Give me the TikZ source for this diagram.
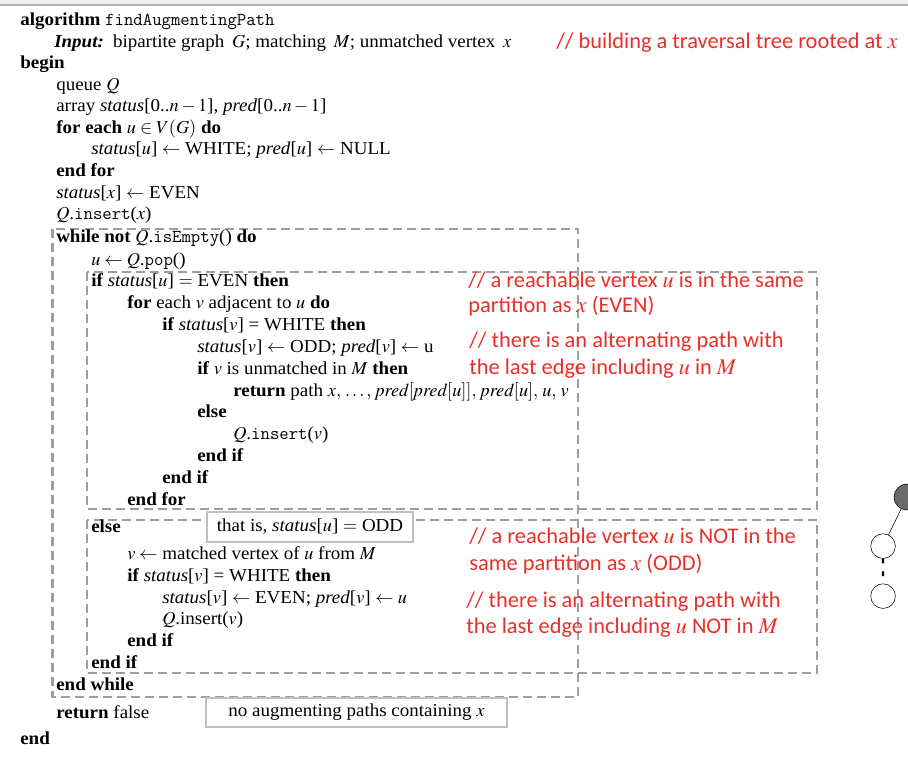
\documentclass[tikz,border=0pt]{standalone}
\usepackage{mathptmx}
\usepackage{fontspec}
\setmainfont{Liberation Serif}[FakeStretch=1.04]
\newfontfamily\notefont{Carlito}
\usetikzlibrary{trees}
\definecolor{notered}{RGB}{232,48,42}
\definecolor{boxgray}{RGB}{158,158,158}
\definecolor{framegray}{RGB}{192,192,192}

\begin{document}
\begin{tikzpicture}
[x=0.75pt,y=-0.75pt,%
  code/.style={anchor=base west,inner sep=0pt},%
  note/.style={anchor=base west,inner sep=0pt,text=notered,font=\notefont\fontsize{16.8}{19}\selectfont},%
  dbox/.style={draw=boxgray,line width=1.9pt,dash pattern=on 6.75pt off 3.75pt},%
  lbox/.style={draw=framegray,fill=white,line width=1.1pt,inner sep=0pt},%
  vertex/.style={shape=circle,draw,inner sep=0pt,minimum size=18.5pt}]
\fontsize{13.7}{16}\selectfont
\useasboundingbox (0,0) rectangle (908,762);
\fill[black!6] (0,0) rectangle (908,5);
\draw[black!30,line width=1.5pt] (0,5.5) -- (908,5.5);

\draw[dbox] (52.5,229) rectangle (578,697);
\draw[dbox] (87,272) rectangle (817,509);
\draw[dbox] (87,520) rectangle (817,673);

\node[lbox,minimum width=154.5pt,minimum height=22.5pt] (oddbox) at (310,527)
  {that is, \textit{status}[$u$] $=$ ODD};
\node[lbox,minimum width=225.75pt,minimum height=21.75pt] (nopath) at (356.5,712.5)
  {no augmenting paths containing $x$};

\node[code] (algo) at (20,26) {\textbf{algorithm} \texttt{findAugmentingPath}};
\node[code] (input) at (54,48) {\textbf{\textit{Input:}}\enspace bipartite graph\, $G$; matching\, $M$; unmatched vertex\, $x$};
\node[code] (begin) at (20,69) {\textbf{begin}};
\node[code] (queue) at (56,91) {queue $Q$};
\node[code] (array) at (56,112) {array \textit{status}[0..$n-1$], \textit{pred}[0..$n-1$]};
\node[code] (forall) at (56,134) {\textbf{for each} $u\in V(G)$ \textbf{do}};
\node[code] (init) at (91,155) {\textit{status}[$u$] $\leftarrow$ WHITE; \textit{pred}[$u$] $\leftarrow$ NULL};
\node[code] (endforall) at (56,177) {\textbf{end for}};
\node[code] (root) at (56,199) {\textit{status}[$x$] $\leftarrow$ EVEN};
\node[code] (push) at (56,220) {$Q$.\texttt{insert}($x$)};
\node[code] (while) at (56,243) {\textbf{while not} $Q$.\texttt{isEmpty}() \textbf{do}};
\node[code] (pop) at (91,266) {$u\leftarrow Q$.\texttt{pop}()};
\node[code] (ifeven) at (91,287) {\textbf{if} \textit{status}[$u$] $=$ EVEN \textbf{then}};
\node[code] (foradj) at (127,309) {\textbf{for} each $v$ adjacent to $u$ \textbf{do}};
\node[code] (ifwhite) at (162,331) {\textbf{if} \textit{status}[$v$] = WHITE \textbf{then}};
\node[code] (setodd) at (197,353) {\textit{status}[$v$] $\leftarrow$ ODD; \textit{pred}[$v$] $\leftarrow$ u};
\node[code] (ifunm) at (197,375) {\textbf{if} $v$ is unmatched in $M$ \textbf{then}};
\node[code] (retpath) at (233,397) {\textbf{return} path $x,\,\ldots,\,\mathit{pred}[\mathit{pred}[u]],\,\mathit{pred}[u],\,u,\,v$};
\node[code] (elseunm) at (197,418) {\textbf{else}};
\node[code] (pushv) at (233,440) {$Q$.\texttt{insert}($v$)};
\node[code] (endunm) at (197,462) {\textbf{end if}};
\node[code] (endwhite) at (162,484) {\textbf{end if}};
\node[code] (endadj) at (127,506) {\textbf{end for}};
\node[code] (elseodd) at (91,533) {\textbf{else}};
\node[code] (mate) at (127,560) {$v\leftarrow$ matched vertex of $u$ from $M$};
\node[code] (ifwhite2) at (127,582) {\textbf{if} \textit{status}[$v$] = WHITE \textbf{then}};
\node[code] (seteven) at (162,604) {\textit{status}[$v$] $\leftarrow$ EVEN; \textit{pred}[$v$] $\leftarrow u$};
\node[code] (pushv2) at (162,625) {$Q$.insert($v$)};
\node[code] (endwhite2) at (127,647) {\textbf{end if}};
\node[code] (endeven) at (91,669) {\textbf{end if}};
\node[code] (endwhile) at (56,691) {\textbf{end while}};
\node[code] (retfalse) at (56,719) {\textbf{return} false};
\node[code] (end) at (20,745) {\textbf{end}};

\node[note] (treenote) at (556,49) {// building a traversal tree rooted at $x$};
\node[note] (evenA) at (468,288) {// a reachable vertex $u$ is in the same};
\node[note] (evenB) at (468,313) {partition as $x$ (EVEN)};
\node[note] (evenC) at (469,348) {// there is an alternating path with};
\node[note] (evenD) at (469,375) {the last edge including $u$ in $M$};
\node[note] (oddA) at (469,544) {// a reachable vertex $u$ is NOT in the};
\node[note] (oddB) at (469,571) {same partition as $x$ (ODD)};
\node[note] (oddC) at (466,608) {// there is an alternating path with};
\node[note] (oddD) at (466,634) {the last edge including $u$ NOT in $M$};

\node[vertex,fill=black!58,minimum size=19.5pt] (x) at (907,497) {}
  [grow=-116,level distance=41pt]
  child {node[vertex,fill=white] (xodd) {}
    [grow=down,level distance=37.5pt]
    child {node[vertex,fill=white] (xeven) {}
      edge from parent[line width=1.8pt,dash pattern=on 3.5pt off 6pt]}
  };
\end{tikzpicture}
\end{document}
